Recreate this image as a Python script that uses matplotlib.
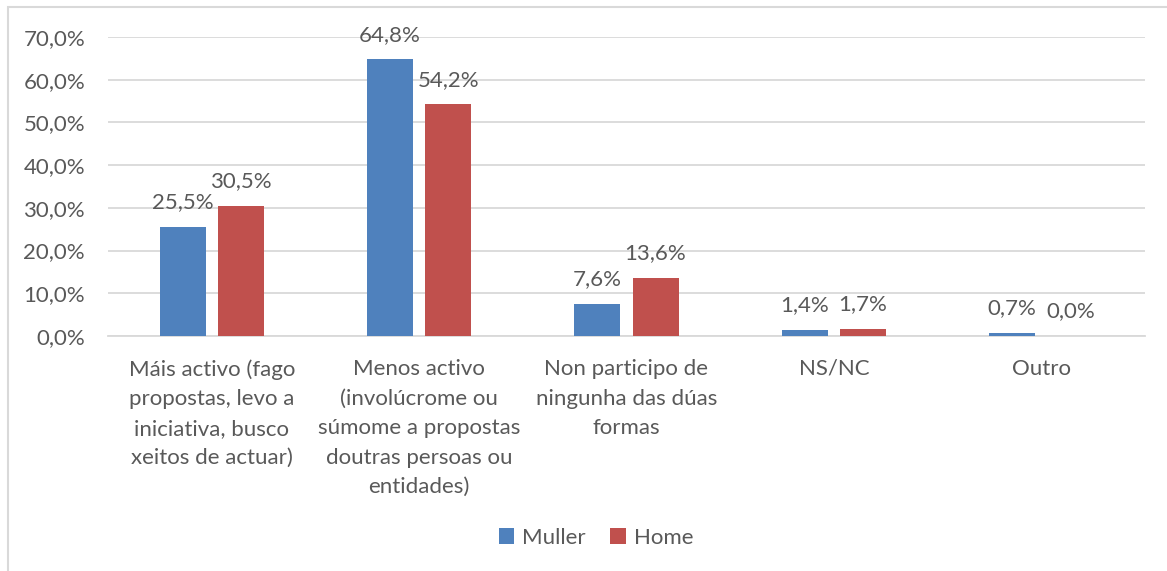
import matplotlib.pyplot as plt
import numpy as np
from matplotlib.patches import Rectangle

plt.rcParams['font.family'] = ['Lato', 'DejaVu Sans']

categories = [
    "Máis activo (fago\npropostas, levo a\niniciativa, busco\nxeitos de actuar)",
    "Menos activo\n(involúcrome ou\nsúmome a propostas\ndoutras persoas ou\nentidades)",
    "Non participo de\nningunha das dúas\nformas",
    "NS/NC",
    "Outro",
]
muller = [25.5, 64.8, 7.6, 1.4, 0.7]
home = [30.5, 54.2, 13.6, 1.7, 0.0]

blue = '#4F81BD'
red = '#C0504D'
txt = '#595959'
fs = 16

fig = plt.figure(figsize=(11.67, 5.71), dpi=100)
ax = fig.add_axes([108 / 1167, 1 - 336 / 571, (1145 - 108) / 1167, (336 - 37) / 571])

# chart frame (only left and top visible in the reference)
fig.patches.append(Rectangle((8 / 1167, -0.1), 1.2, 1 - 7 / 571 + 0.1,
                             transform=fig.transFigure, fill=False,
                             edgecolor='#D9D9D9', linewidth=1.5))

x = np.arange(len(categories))
w = 0.222
off = 0.14
b1 = ax.bar(x - off, muller, w, color=blue, label='Muller', zorder=3)
b2 = ax.bar(x + off, home, w, color=red, label='Home', zorder=3)

for bars, vals in ((b1, muller), (b2, home)):
    for b, v in zip(bars, vals):
        ax.annotate(f"{v:.1f}%".replace('.', ','),
                    (b.get_x() + b.get_width() / 2, v),
                    xytext=(0, 10.5), textcoords='offset points',
                    ha='center', va='bottom', fontsize=fs, color=txt)

ax.set_xlim(-0.5, len(categories) - 0.5)
ax.set_ylim(0, 70)
ax.set_yticks(np.arange(0, 71, 10))
ax.set_yticklabels([f"{t:.1f}%".replace('.', ',') for t in np.arange(0, 71, 10)])
ax.set_xticks(x)
ax.set_xticklabels(categories, linespacing=1.6)
ax.tick_params(axis='both', length=0, labelsize=fs, labelcolor=txt)
ax.tick_params(axis='y', pad=16.5)
ax.tick_params(axis='x', pad=16.5)
ax.grid(axis='y', color='#D9D9D9', linewidth=1.3, zorder=0)
for s in ['top', 'right', 'left']:
    ax.spines[s].set_visible(False)
ax.spines['bottom'].set_color('#D9D9D9')
ax.spines['bottom'].set_linewidth(1.3)

fig.legend(handles=[b1, b2], loc='center', bbox_to_anchor=(596 / 1167, 1 - 538 / 571),
           ncol=2, frameon=False, fontsize=fs, labelcolor=txt,
           handlelength=0.7, handleheight=0.7, handletextpad=0.35, columnspacing=1.1)

fig.savefig('out.png', dpi=100)
